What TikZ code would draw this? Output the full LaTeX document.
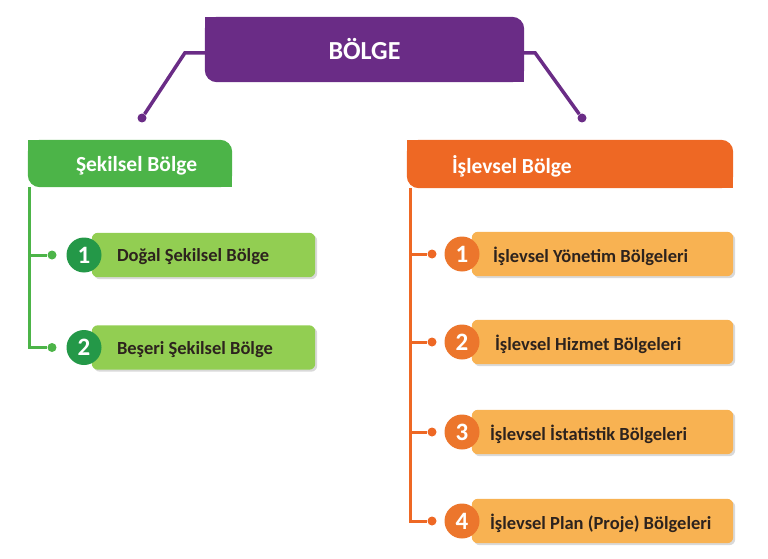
\documentclass[tikz,border=0pt]{standalone}
\usepackage{fontspec}
\setmainfont{Carlito}
\usetikzlibrary{positioning,shadows}
\definecolor{mor}{RGB}{106,44,134}
\definecolor{yesil}{RGB}{76,180,72}
\definecolor{koyuyesil}{RGB}{36,152,72}
\definecolor{acikyesil}{RGB}{146,206,82}
\definecolor{turuncu}{RGB}{238,104,36}
\definecolor{koyuturuncu}{RGB}{236,118,44}
\definecolor{acikturuncu}{RGB}{248,178,82}
\definecolor{yazi}{RGB}{45,35,30}
\tikzset{
  kutu/.style={inner sep=0pt},
  golge/.style={rounded corners=6pt,drop shadow={opacity=.3,shadow xshift=2pt,shadow yshift=-2pt}},
  baslik/.style={inner sep=0pt,text=white,font=\fontsize{21.5}{22}\selectfont\bfseries},
  madde/.style={inner sep=0pt,text=yazi,font=\fontsize{18.5}{19}\selectfont\bfseries},
  numara/.style={circle,inner sep=0pt,minimum size=35pt,text=white,font=\fontsize{25}{25}\selectfont\bfseries},
  nokta/.style={circle,inner sep=0pt,minimum size=9pt},
}
% sag ust ve sol alt kosesi yuvarlak kutu
\newcommand{\sekil}[2]{%
  \fill[#1,rounded corners=12pt] (#2.north west) rectangle (#2.south east);
  \fill[#1] (#2.north west) rectangle ([xshift=20pt,yshift=-20pt]#2.north west);
  \fill[#1] (#2.south east) rectangle ([xshift=-20pt,yshift=20pt]#2.south east);}
\begin{document}
\begin{tikzpicture}[x=1pt,y=-1pt]
  \useasboundingbox (0,0) rectangle (768,559);
  % kutular
  \node[kutu,minimum width=319pt,minimum height=65pt] (bolge) at (364.5,49.5) {};
  \node[kutu,minimum width=204pt,minimum height=47pt] (sekilsel) at (130,163.5) {};
  \node[kutu,minimum width=326pt,minimum height=48pt] (islevsel) at (570,164) {};
  \node[kutu,minimum width=223pt,minimum height=44pt] (g1) at (203.5,255) {};
  \node[kutu,minimum width=223pt,minimum height=44pt] (g2) at (203.5,347.5) {};
  \node[kutu,minimum width=261pt,minimum height=44pt] (o1) at (602.5,254) {};
  \node[kutu,minimum width=261pt,minimum height=44pt] (o2) at (602.5,342) {};
  \node[kutu,minimum width=261pt,minimum height=44pt] (o3) at (602.5,432) {};
  \node[kutu,minimum width=261pt,minimum height=44pt] (o4) at (602.5,521) {};
  \sekil{mor}{bolge}
  \sekil{yesil}{sekilsel}
  \sekil{turuncu}{islevsel}
  \fill[acikyesil,golge] (g1.north west) rectangle (g1.south east);
  \fill[acikyesil,golge] (g2.north west) rectangle (g2.south east);
  \fill[acikturuncu,golge] (o1.north west) rectangle (o1.south east);
  \fill[acikturuncu,golge] (o2.north west) rectangle (o2.south east);
  \fill[acikturuncu,golge] (o3.north west) rectangle (o3.south east);
  \fill[acikturuncu,golge] (o4.north west) rectangle (o4.south east);
  % yazilar
  \node[baslik,font=\fontsize{26}{26}\selectfont\bfseries] (bolgead) at (bolge) {BÖLGE};
  \node[baslik,right=48pt of sekilsel.west,yshift=-2.5pt] (sekilselad) {Şekilsel Bölge};
  \node[baslik,right=45pt of islevsel.west,yshift=-2.5pt] (islevselad) {İşlevsel Bölge};
  \node[madde,right=25pt of g1.west,yshift=-2pt] (g1ad) {Doğal Şekilsel Bölge};
  \node[madde,right=25pt of g2.west,yshift=-2pt] (g2ad) {Beşeri Şekilsel Bölge};
  \node[madde,right=21pt of o1.west,yshift=-2pt] (o1ad) {İşlevsel Yönetim Bölgeleri};
  \node[madde,right=23pt of o2.west,yshift=-2pt] (o2ad) {İşlevsel Hizmet Bölgeleri};
  \node[madde,right=18pt of o3.west,yshift=-2pt] (o3ad) {İşlevsel İstatistik Bölgeleri};
  \node[madde,right=18pt of o4.west,yshift=-2pt] (o4ad) {İşlevsel Plan (Proje) Bölgeleri};
  % numaralar
  \node[numara,fill=koyuyesil] (gn1) at (84,255) {1};
  \node[numara,fill=koyuyesil] (gn2) at (84,347.5) {2};
  \node[numara,fill=koyuturuncu] (on1) at (462,254) {1};
  \node[numara,fill=koyuturuncu] (on2) at (462,342) {2};
  \node[numara,fill=koyuturuncu] (on3) at (462,432) {3};
  \node[numara,fill=koyuturuncu] (on4) at (462,521) {4};
  % noktalar
  \node[nokta,fill=mor] (pd1) at (142,118) {};
  \node[nokta,fill=mor] (pd2) at (582,118) {};
  \node[nokta,fill=yesil] (gd1) at (52,255) {};
  \node[nokta,fill=yesil] (gd2) at (52,347.5) {};
  \node[nokta,fill=turuncu] (od1) at (432,254) {};
  \node[nokta,fill=turuncu] (od2) at (432,342) {};
  \node[nokta,fill=turuncu] (od3) at (432,432) {};
  \node[nokta,fill=turuncu] (od4) at (432,521) {};
  % baglantilar
  \draw[mor,line width=3.5pt] ([yshift=-3.5pt]bolge.west) -- ++(-20pt,0) -- (pd1);
  \draw[mor,line width=3.5pt] ([yshift=-3.5pt]bolge.east) -- ++(11pt,0) -- (pd2);
  \draw[yesil,line width=3pt] ([xshift=2pt]sekilsel.south west) |- (gd1);
  \draw[yesil,line width=3pt] ([xshift=2pt]sekilsel.south west) |- (gd2);
  \draw[turuncu,line width=3pt] ([xshift=4pt]islevsel.south west) |- (od1);
  \draw[turuncu,line width=3pt] ([xshift=4pt]islevsel.south west) |- (od2);
  \draw[turuncu,line width=3pt] ([xshift=4pt]islevsel.south west) |- (od3);
  \draw[turuncu,line width=3pt] ([xshift=4pt]islevsel.south west) |- (od4);
\end{tikzpicture}
\end{document}
